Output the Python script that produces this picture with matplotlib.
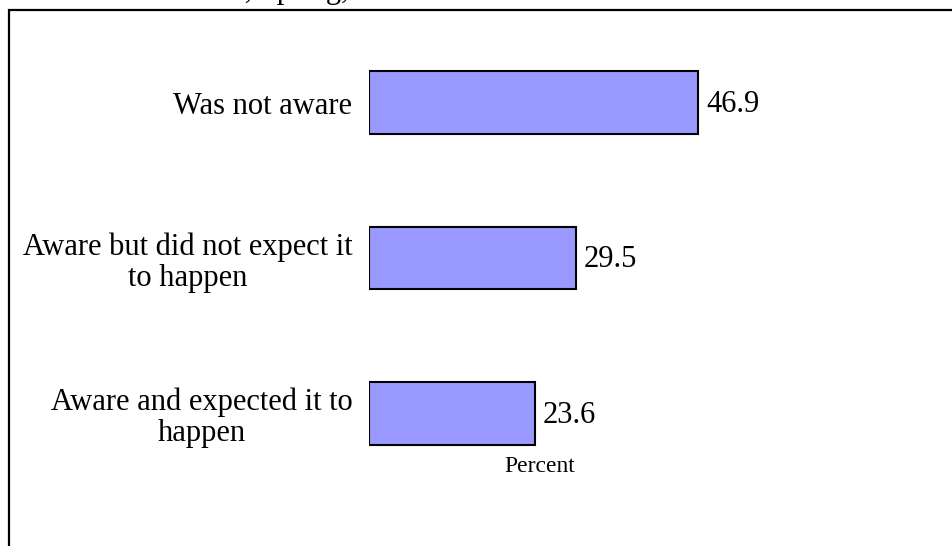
import matplotlib
matplotlib.use("Agg")
import matplotlib.pyplot as plt
from matplotlib.patches import Rectangle

# data, top to bottom
categories = ["Was not aware",
              "Aware but did not expect it\nto happen",
              "Aware and expected it to\nhappen"]
percent = [46.9, 29.5, 23.6]

W, H = 952, 546
plt.rcParams["font.family"] = ["Liberation Serif", "DejaVu Serif"]

fig = plt.figure(figsize=(W / 100, H / 100), dpi=100)

# axes placed in pixel terms: x=0 at px 369, 7.02 px per percent
x0_px, px_per = 369, 7.02
xmax = 48.7
y_top_px, y_bot_px = 24.75, 491.25
ax = fig.add_axes([x0_px / W, 1 - y_bot_px / H,
                   xmax * px_per / W, (y_bot_px - y_top_px) / H])
ax.set_xlim(0, xmax)
ax.set_ylim(2.5, -0.5)

pos = list(range(len(categories)))
ax.barh(pos, percent, height=0.4, color="#9999FF",
        edgecolor="black", linewidth=1.5)

for p, v in zip(pos, percent):
    ax.text(v + 8 / px_per, p + 0.012, f"{v:.1f}", va="center", ha="left",
            fontsize=22, clip_on=False)

ax.set_yticks(pos)
ax.set_yticklabels(categories, fontsize=22, linespacing=1.1,
                   multialignment="center")
ax.tick_params(axis="y", length=0, pad=12)
ax.set_xticks([])
ax.set_xlabel("Percent", fontsize=17)
ax.xaxis.set_label_coords(0.5, (y_bot_px - 467) / (y_bot_px - y_top_px))
ax.xaxis.label.set_va("center")
for s in ax.spines.values():
    s.set_visible(False)

# outer frame, clipped by the figure edges
fig.patches.append(Rectangle((8.5 / W, -0.1), 1.2, 1 - 9.5 / H + 0.1,
                             transform=fig.transFigure, fill=False,
                             edgecolor="black", linewidth=1.6))

# title cut off at the top
fig.text(140 / W, 1 + 2 / H, "Students, Spring, 2000", fontsize=22,
         ha="left", va="baseline")

fig.savefig("out.png", dpi=100)
